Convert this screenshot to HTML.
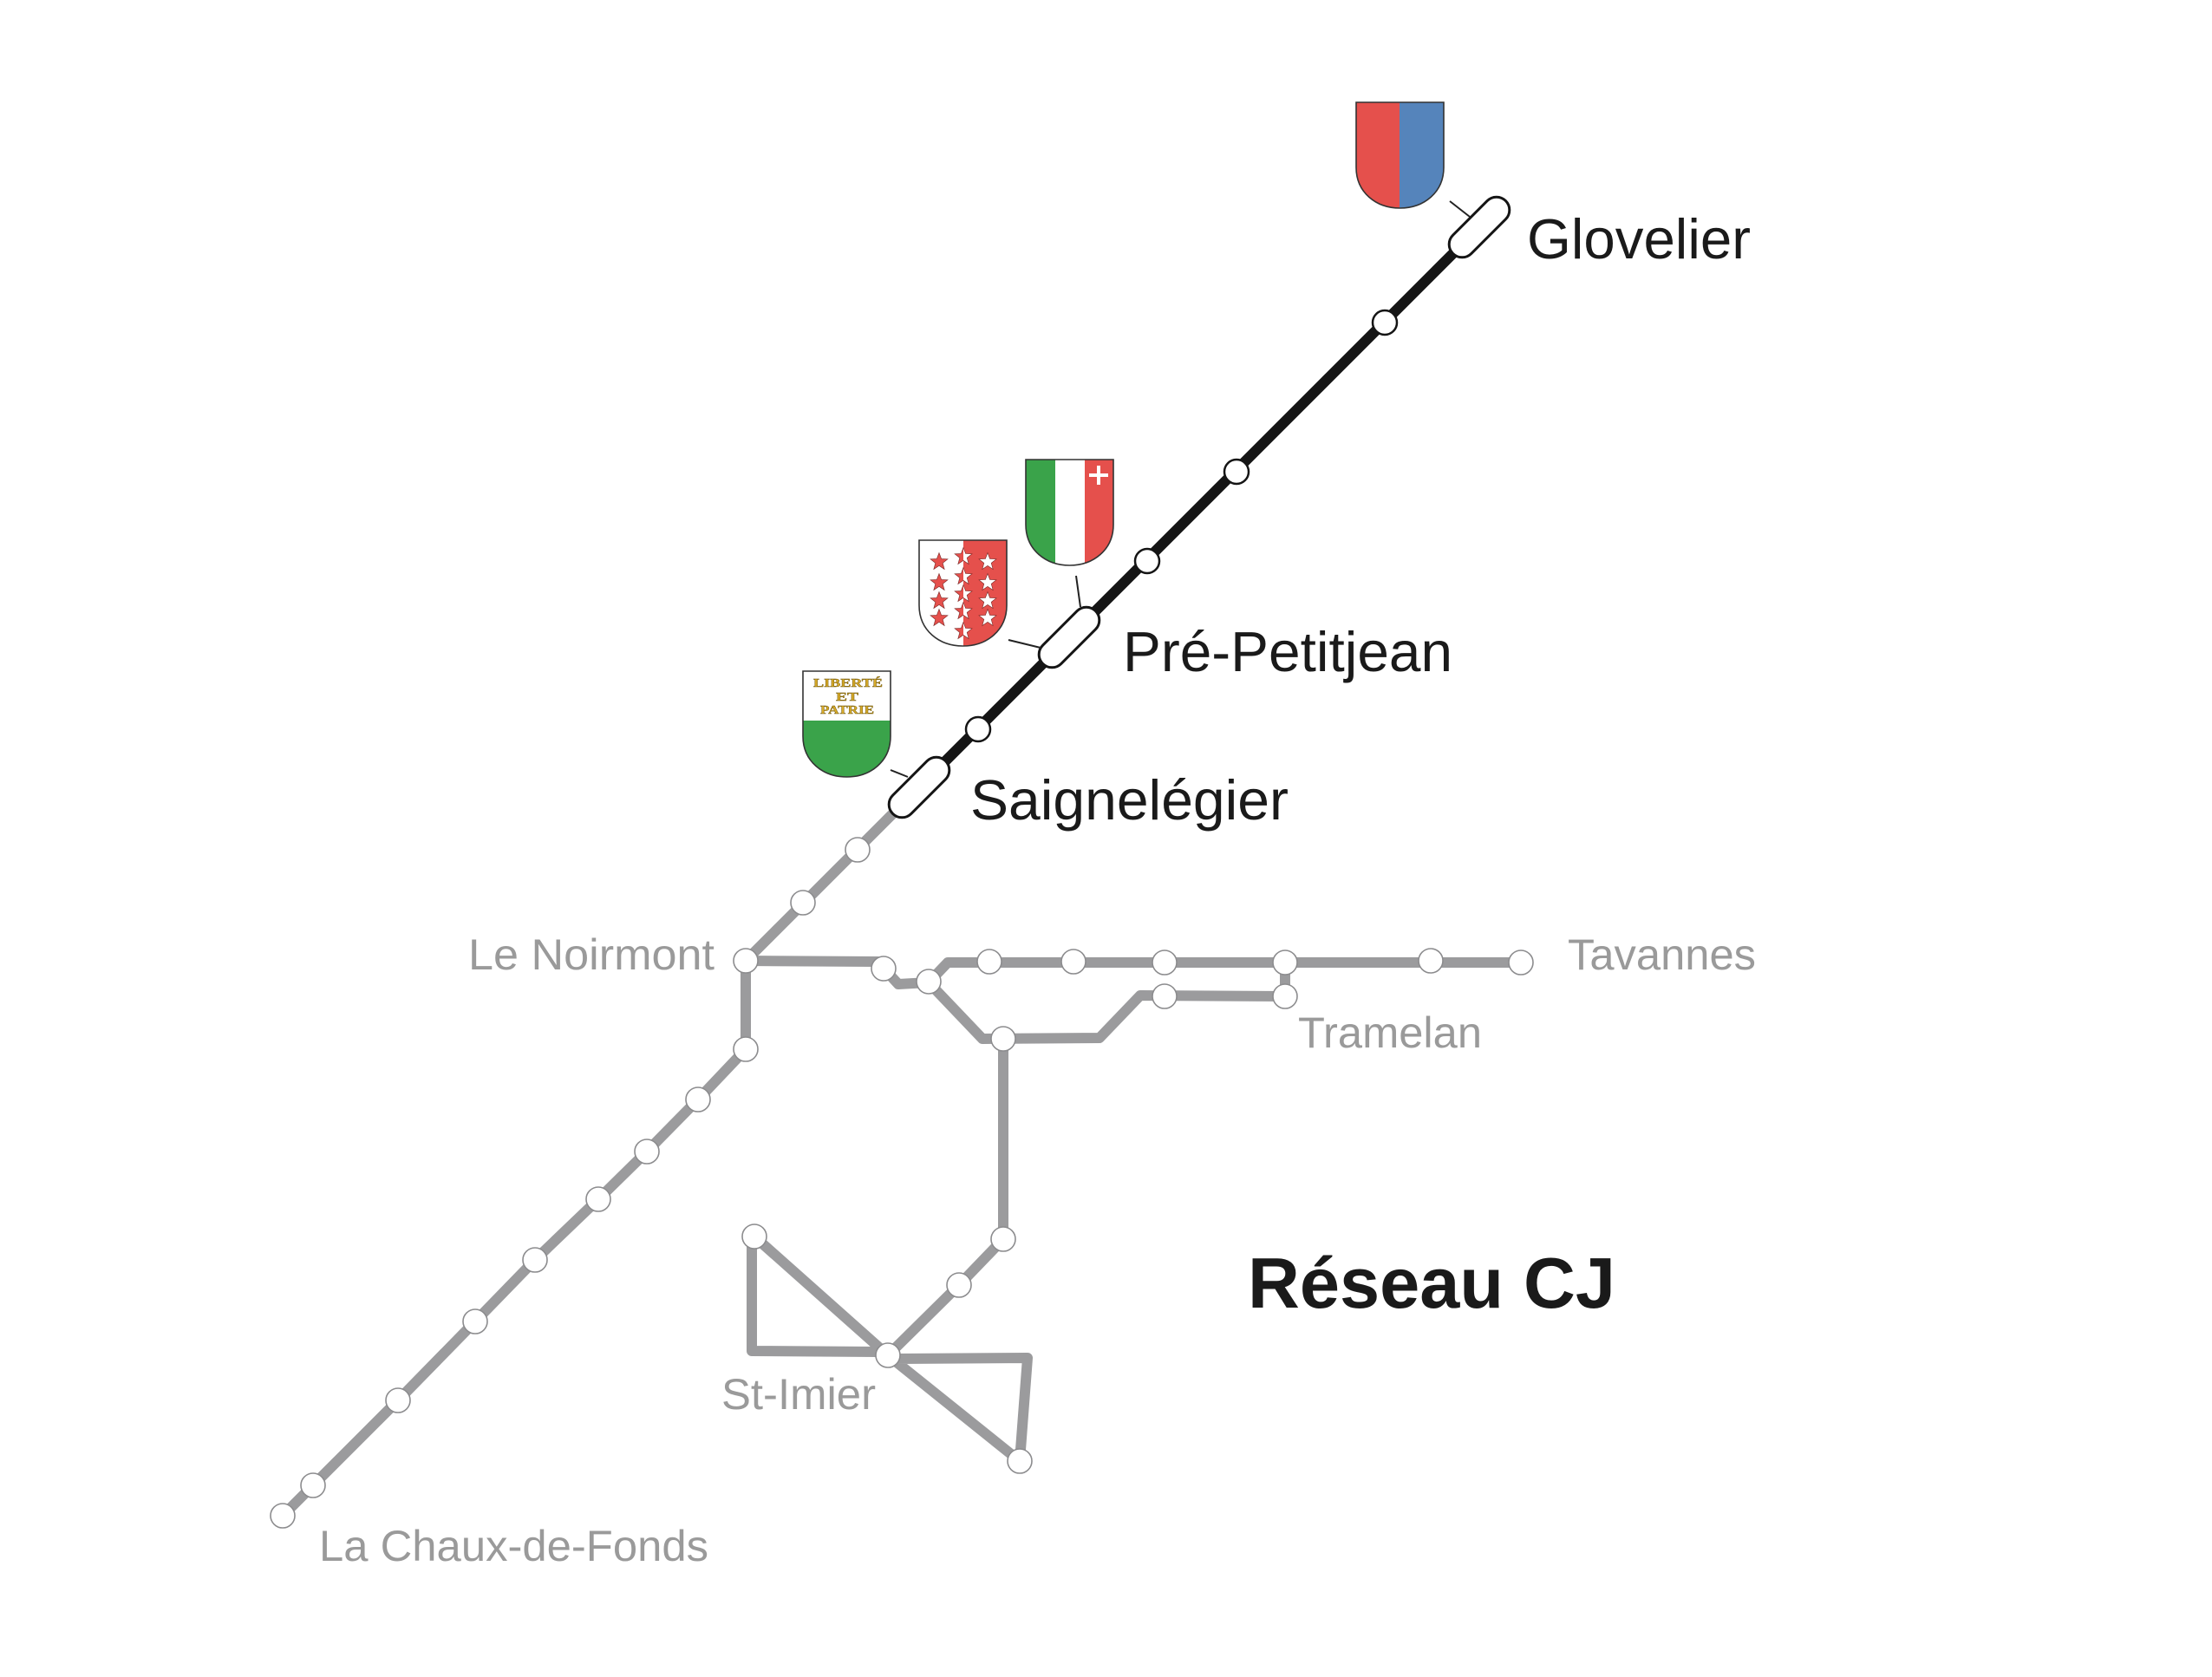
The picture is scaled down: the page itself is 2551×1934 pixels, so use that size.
<!DOCTYPE html>
<html>
<head>
<meta charset="utf-8">
<style>
  html,body{margin:0;padding:0;background:#ffffff;}
  svg{display:block;}
  .lbl{font-family:"Liberation Sans",Arial,sans-serif;}
</style>
</head>
<body>
<svg width="2551" height="1934" viewBox="0 0 2551 1934" xmlns="http://www.w3.org/2000/svg">
  <defs>
    <path id="shield" d="M0,0 H101 V75 C101,104 78,122 50.5,122 C23,122 0,104 0,75 Z"/>
    <polygon id="star" points="0,-10.5 2.6,-3.6 10,-3.24 4.2,1.37 6.17,8.5 0,4.4 -6.17,8.5 -4.2,1.37 -10,-3.24 -2.6,-3.6"/>
    <clipPath id="vsClip"><use href="#shield" transform="translate(1060,623)"/></clipPath>
    <clipPath id="leftHalf"><rect x="1050" y="600" width="61" height="160"/></clipPath>
    <clipPath id="rightHalf"><rect x="1111" y="600" width="60" height="160"/></clipPath>
    <clipPath id="neClip"><use href="#shield" transform="translate(1183,530)"/></clipPath>
    <clipPath id="glClip"><use href="#shield" transform="translate(1564,118)"/></clipPath>
    <clipPath id="vdClip"><use href="#shield" transform="translate(926,774)"/></clipPath>
  </defs>

  <!-- GRAY NETWORK LINES -->
  <g fill="none" stroke="#9b9b9d" stroke-width="12" stroke-linejoin="round" stroke-linecap="round">
    <path d="M1060,908 L860,1108"/>
    <path d="M860,1108 L860,1210 L805,1268 L746,1328 L690,1383 L617,1453 L548,1524 L459,1615 L361,1713 L326,1748"/>
    <path d="M860,1108 L1012,1109 L1036,1135 L1071,1133"/>
    <path d="M1071,1133 L1093,1110 L1754,1110"/>
    <path d="M1071,1133 L1133,1198 L1268,1197 L1315,1148 L1482,1149 L1482,1110"/>
    <path d="M1157,1198 L1157,1429 L1106,1482 L1024,1563"/>
    <path d="M1024,1563 L870,1426 L867,1430 L867,1558 L1012,1559 L1024,1563"/>
    <path d="M1024,1563 L1034,1567 L1185,1566 L1176,1685 L1024,1563"/>
  </g>

  <!-- BLACK LINE -->
  <path d="M1706,262 L1060,908" stroke="#151515" stroke-width="12" fill="none" stroke-linecap="round"/>

  <!-- GRAY STATION CIRCLES -->
  <g fill="#ffffff" stroke="#8c8c8e" stroke-width="1.6">
    <circle cx="989" cy="980" r="14"/>
    <circle cx="926" cy="1041" r="14"/>
    <circle cx="860" cy="1108" r="14"/>
    <circle cx="1019" cy="1117" r="14"/>
    <circle cx="1071" cy="1132" r="14"/>
    <circle cx="1141" cy="1109" r="14"/>
    <circle cx="1238" cy="1109" r="14"/>
    <circle cx="1343" cy="1110" r="14"/>
    <circle cx="1482" cy="1110" r="14"/>
    <circle cx="1650" cy="1108" r="14"/>
    <circle cx="1754" cy="1110" r="14"/>
    <circle cx="1343" cy="1149" r="14"/>
    <circle cx="1482" cy="1149" r="14"/>
    <circle cx="1157" cy="1198" r="14"/>
    <circle cx="860" cy="1210" r="14"/>
    <circle cx="805" cy="1268" r="14"/>
    <circle cx="746" cy="1328" r="14"/>
    <circle cx="690" cy="1383" r="14"/>
    <circle cx="617" cy="1453" r="14"/>
    <circle cx="548" cy="1524" r="14"/>
    <circle cx="459" cy="1615" r="14"/>
    <circle cx="361" cy="1713" r="14"/>
    <circle cx="326" cy="1748" r="14"/>
    <circle cx="1157" cy="1429" r="14"/>
    <circle cx="1106" cy="1482" r="14"/>
    <circle cx="870" cy="1426" r="14"/>
    <circle cx="1024" cy="1563" r="14"/>
    <circle cx="1176" cy="1685" r="14"/>
  </g>

  <!-- BLACK STATION CIRCLES -->
  <g fill="#ffffff" stroke="#151515" stroke-width="2.5">
    <circle cx="1597" cy="372" r="14"/>
    <circle cx="1426" cy="544" r="14"/>
    <circle cx="1323" cy="647" r="14"/>
    <circle cx="1128" cy="841" r="14"/>
  </g>

  <!-- PILLS -->
  <g fill="#ffffff" stroke="#151515" stroke-width="3">
    <rect x="-43" y="-15" width="86" height="30" rx="15" transform="translate(1706,262) rotate(-45)"/>
    <rect x="-43" y="-15" width="86" height="30" rx="15" transform="translate(1233,735) rotate(-45)"/>
    <rect x="-43" y="-15" width="86" height="30" rx="15" transform="translate(1060,908) rotate(-45)"/>
  </g>

  <!-- TICKS -->
  <g stroke="#222" stroke-width="2" fill="none">
    <line x1="1672" y1="232" x2="1695" y2="250"/>
    <line x1="1241" y1="664" x2="1246" y2="700"/>
    <line x1="1163" y1="738" x2="1200" y2="747"/>
    <line x1="1027" y1="888" x2="1047" y2="896"/>
  </g>

  <!-- SHIELD: red/blue -->
  <g clip-path="url(#glClip)">
    <rect x="1564" y="118" width="50" height="122" fill="#e5504c"/>
    <rect x="1614" y="118" width="51" height="122" fill="#5584bb"/>
  </g>
  <use href="#shield" transform="translate(1564,118)" fill="none" stroke="#333" stroke-width="1.6"/>

  <!-- SHIELD: Neuchâtel -->
  <g clip-path="url(#neClip)">
    <rect x="1183" y="530" width="34" height="123" fill="#3aa34a"/>
    <rect x="1217" y="530" width="34" height="123" fill="#ffffff"/>
    <rect x="1251" y="530" width="34" height="123" fill="#e5504c"/>
    <rect x="1256" y="546" width="22" height="4" fill="#ffffff"/>
    <rect x="1265" y="537" width="4" height="22" fill="#ffffff"/>
  </g>
  <use href="#shield" transform="translate(1183,530)" fill="none" stroke="#333" stroke-width="1.6"/>

  <!-- SHIELD: Valais -->
  <g clip-path="url(#vsClip)">
    <rect x="1060" y="623" width="51" height="123" fill="#ffffff"/>
    <rect x="1111" y="623" width="50" height="123" fill="#e5504c"/>
    <g fill="#e5504c" stroke="#7a2a28" stroke-width="0.6">
      <use href="#star" x="1083" y="648"/>
      <use href="#star" x="1083" y="672"/>
      <use href="#star" x="1083" y="693"/>
      <use href="#star" x="1083" y="713"/>
    </g>
    <g fill="#ffffff" stroke="#7a2a28" stroke-width="0.6">
      <use href="#star" x="1139" y="648"/>
      <use href="#star" x="1139" y="672"/>
      <use href="#star" x="1139" y="693"/>
      <use href="#star" x="1139" y="713"/>
    </g>
    <g clip-path="url(#leftHalf)" fill="#e5504c" stroke="#7a2a28" stroke-width="0.6">
      <use href="#star" x="1111" y="642"/>
      <use href="#star" x="1111" y="665"/>
      <use href="#star" x="1111" y="685"/>
      <use href="#star" x="1111" y="705"/>
      <use href="#star" x="1111" y="728"/>
    </g>
    <g clip-path="url(#rightHalf)" fill="#ffffff" stroke="#7a2a28" stroke-width="0.6">
      <use href="#star" x="1111" y="642"/>
      <use href="#star" x="1111" y="665"/>
      <use href="#star" x="1111" y="685"/>
      <use href="#star" x="1111" y="705"/>
      <use href="#star" x="1111" y="728"/>
    </g>
  </g>
  <use href="#shield" transform="translate(1060,623)" fill="none" stroke="#333" stroke-width="1.6"/>

  <!-- SHIELD: Vaud -->
  <g clip-path="url(#vdClip)">
    <rect x="926" y="774" width="101" height="57" fill="#ffffff"/>
    <rect x="926" y="831" width="101" height="70" fill="#3aa34a"/>
  </g>
  <use href="#shield" transform="translate(926,774)" fill="none" stroke="#333" stroke-width="1.6"/>
  <g font-family="'Liberation Serif',serif" font-weight="bold" font-size="14" fill="#d8ab2a" stroke="#6b5200" stroke-width="0.4" text-anchor="middle">
    <text x="978" y="792" textLength="80" lengthAdjust="spacingAndGlyphs">LIBERTÉ</text>
    <text x="977" y="808" textLength="26" lengthAdjust="spacingAndGlyphs">ET</text>
    <text x="977" y="823" textLength="62" lengthAdjust="spacingAndGlyphs">PATRIE</text>
  </g>

  <!-- BLACK LABELS -->
  <g class="lbl" fill="#1a1a1a" font-size="65">
    <text x="1761" y="298" textLength="258" lengthAdjust="spacingAndGlyphs">Glovelier</text>
    <text x="1295" y="774" textLength="380" lengthAdjust="spacingAndGlyphs">Pré-Petitjean</text>
    <text x="1119" y="945" textLength="367" lengthAdjust="spacingAndGlyphs">Saignelégier</text>
  </g>

  <!-- GRAY LABELS -->
  <g class="lbl" fill="#9a9a9a" font-size="50">
    <text x="540" y="1118" textLength="284" lengthAdjust="spacingAndGlyphs">Le Noirmont</text>
    <text x="1808" y="1118" textLength="217" lengthAdjust="spacingAndGlyphs">Tavannes</text>
    <text x="1497" y="1208" textLength="212" lengthAdjust="spacingAndGlyphs">Tramelan</text>
    <text x="832" y="1625" textLength="178" lengthAdjust="spacingAndGlyphs">St-Imier</text>
    <text x="368" y="1800" textLength="449" lengthAdjust="spacingAndGlyphs">La Chaux-de-Fonds</text>
  </g>

  <!-- TITLE -->
  <text class="lbl" x="1439" y="1508" font-size="83" font-weight="bold" fill="#1a1a1a" textLength="424" lengthAdjust="spacingAndGlyphs">Réseau CJ</text>
</svg>
</body>
</html>
